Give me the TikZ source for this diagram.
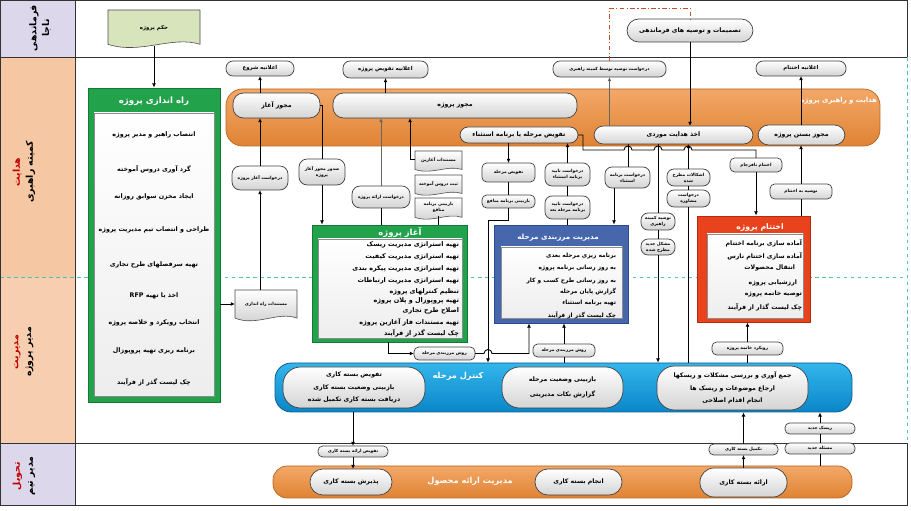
\documentclass[tikz,border=0pt]{standalone}
\usepackage{fontspec}
\usetikzlibrary{arrows.meta,calc}
\newfontfamily\fa[Script=Arabic]{DejaVu Sans}
\TeXXeTstate=1
\newcommand\RL[1]{\beginR#1\endR}
\newcommand\szA{\fontsize{3.7}{5.2}\selectfont}
\newcommand\szB{\fontsize{4.6}{5.8}\selectfont}
\newcommand\szC{\fontsize{5.3}{6.6}\selectfont}
\newcommand\szD{\fontsize{6.6}{8}\selectfont}
\newcommand\szE{\fontsize{8}{11}\selectfont}
\newcommand\szL{\fontsize{5.3}{10.5}\selectfont}
\definecolor{lav}{HTML}{DCD7EA}
\definecolor{peach}{HTML}{F5C7A2}
\definecolor{orA}{HTML}{F3A868}
\definecolor{orB}{HTML}{DF8334}
\definecolor{orD}{HTML}{B8631F}
\definecolor{grn}{HTML}{22A24B}
\definecolor{grnD}{HTML}{137A35}
\definecolor{blu}{HTML}{4767AD}
\definecolor{bluD}{HTML}{2C4A8C}
\definecolor{redb}{HTML}{E8431D}
\definecolor{redD}{HTML}{B02E10}
\definecolor{cyA}{HTML}{33B6EC}
\definecolor{cyB}{HTML}{0A86C8}
\definecolor{cyD}{HTML}{0D5E90}
\definecolor{tealL}{HTML}{4CC3B5}
\definecolor{ddash}{HTML}{C0502A}
\definecolor{olv}{HTML}{D8E4BC}
\definecolor{redT}{HTML}{C00000}
\newcommand\nd[7]{\node[#1, minimum width={(#5-#3)*0.03cm}, minimum height={(#6-#4)*0.03cm}] (#2) at ({(#3+#5)/2},{(#4+#6)/2}) {#7};}
\newcommand\docshp[5]{\path[#5] (#1,#2) -- (#3,#2) -- (#3,{#4-0.12*(#4-#2)}) .. controls ({#1+0.7*(#3-#1)},{#4-0.35*(#4-#2)}) and ({#1+0.35*(#3-#1)},{#4+0.15*(#4-#2)}) .. (#1,{#4-0.12*(#4-#2)}) -- cycle;}
\begin{document}
\begin{tikzpicture}[x=0.03cm,y=-0.03cm,
 base/.style={font=\fa\bfseries\szB, inner sep=0pt, outer sep=0pt, align=center, text=black},
 rb/.style={base, draw=black!75, line width=0.6pt, rounded corners=5pt, top color=white, bottom color=black!17},
 sm/.style={rb, rounded corners=4pt, font=\fa\bfseries\szA},
 pill/.style={rb, rounded corners=9pt, font=\fa\bfseries\szC},
 big/.style={rb, rounded corners=15pt, font=\fa\bfseries\szL},
 arr/.style={-{Latex[length=3.6pt,width=3.4pt]}, line width=0.75pt, draw=black},
 ln/.style={line width=0.75pt, draw=black},
 garr/.style={arr, draw=black!60},
 hdr/.style={base, text=white, font=\fa\bfseries\szD},
 item/.style={base, font=\fa\bfseries\szC},
 panel/.style={draw=black!45, line width=0.4pt, top color=white, bottom color=black!7},
 docst/.style={draw=black!70, line width=0.5pt, top color=white, bottom color=black!20},
 lanel/.style={draw=black!80, line width=0.7pt},
 lbl/.style={base, rotate=90, font=\fa\bfseries\szE},
]
\useasboundingbox (0,0) rectangle (911,511);
% ---------- lanes ----------
\fill[lav] (0,0) rectangle (75,57);
\fill[peach] (0,57) rectangle (75,277);
\fill[peach!85] (0,277) rectangle (75,443);
\fill[lav] (0,443) rectangle (75,505);
\draw[tealL, dashed, line width=0.7pt] (0,277) -- (907,277);
\draw[tealL, dashed, line width=0.7pt] (907,57) -- (907,443);
\draw[lanel] (0,0.5) -- (907,0.5) -- (907,57);
\draw[lanel] (0,0.5) -- (0,505) -- (907,505) -- (907,443);
\draw[lanel] (0,57) -- (907,57);
\draw[lanel] (0,443) -- (907,443);
\draw[lanel] (75,0.5) -- (75,505);
\node[lbl] (L1) at (40,28) {\RL{فرماندهی}\\\RL{ناجا}};
\node[lbl] (L2) at (24,172) {{\color{redT}\RL{هدایت}}\\\RL{کمیته راهبری}};
\node[lbl] (L3) at (24,352) {{\color{redT}\RL{مدیریت}}\\\RL{مدیر پروژه}};
\node[lbl] (L4) at (24,476) {{\color{redT}\RL{تحویل}}\\\RL{مدیر تیم}};
% helper x coordinates
\coordinate (x388) at (388,0);
\coordinate (x488) at (488,0);
\coordinate (x529) at (529,0);
\coordinate (x614) at (614,0);
\coordinate (x628) at (628,0);
% ---------- lane 1 ----------
\docshp{108}{10}{200}{49}{draw=black!70, line width=0.5pt, fill=olv}
\nd{base,font=\fa\bfseries\szB}{hokm}{108}{10}{200}{46}{\RL{حکم پروژه}}
\nd{pill,rounded corners=10pt}{tasmim}{627}{19}{753}{42}{\RL{تصمیمات و توصیه های فرماندهی}}
% ---------- lane 2 top row ----------
\nd{rb,rounded corners=6pt}{eshoro}{226}{61}{294}{76}{\RL{اعلانیه شروع}}
\nd{rb,rounded corners=6pt}{etafviz}{343}{61}{428}{78}{\RL{اعلانیه تفویض پروژه}}
\nd{rb,rounded corners=6pt,font=\fa\bfseries\szA}{dkomite}{553}{61}{666}{77}{\RL{درخواست توصیه توسط کمیته راهبری}}
\nd{rb,rounded corners=6pt}{ekhtetam}{756}{61}{846}{76}{\RL{اعلانیه اختتام}}
% orange band
\nd{draw=orD, line width=0.6pt, rounded corners=14pt, top color=orA, bottom color=orB}{band}{226}{89}{880}{146}{}
\node[hdr, anchor=east, font=\fa\bfseries\fontsize{5.9}{7}\selectfont] (bandT) at (877,101) {\RL{هدایت و راهبری پروژه}};
\nd{pill}{mstart}{233}{93}{320}{118}{\RL{مجوز آغاز}}
\nd{pill}{mproj}{333}{93}{577}{118}{\RL{مجوز پروژه}}
\nd{pill,rounded corners=7pt}{tafviz}{460}{127}{578}{143}{\RL{تفویض مرحله یا برنامه استثناء}}
\nd{pill,rounded corners=8pt}{akhz}{594}{126}{753}{144}{\RL{اخذ هدایت موردی}}
\nd{pill,rounded corners=9pt}{mbastan}{758}{125}{845}{145}{\RL{مجوز بستن پروژه}}
% green start-up box
\nd{draw=grnD, line width=0.8pt, fill=grn}{gbox}{88}{88}{220}{402}{}
\node[hdr, font=\fa\bfseries\fontsize{7.4}{9}\selectfont] (gT) at (154,101) {\RL{راه اندازی پروژه}};
\nd{panel}{gin}{94}{113}{214}{396}{}
\foreach \t/\y [count=\i] in {انتصاب راهبر و مدیر پروژه/135, گرد آوری دروس آموخته/169, ایجاد مخزن سوابق روزانه/197, طراحی و انتصاب تیم مدیریت پروژه/230, تهیه سرفصلهای طرح تجاری/265, {اخذ یا تهیه \beginL RFP\endL}/296, انتخاب رویکرد و خلاصه پروژه/323, برنامه ریزی تهیه پروپوزال/351, چک لیست گذر از فرآیند/382}
  \node[item, font=\fa\bfseries\fontsize{5.4}{6.6}\selectfont] (g\i) at (154,\y) {\RL{\t}};
% documents and request boxes
\docshp{235}{290}{297}{322}{docst}
\nd{base,font=\fa\bfseries\szA}{rdoc}{235}{290}{297}{318}{\RL{مستندات راه اندازی}}
\nd{sm,rounded corners=7pt}{rstart}{232}{166}{288}{190}{\RL{درخواست آغاز پروژه}}
\nd{sm,rounded corners=7pt}{sodur}{299}{159}{345}{185}{\RL{صدور مجوز آغاز}\\\RL{پروژه}}
\nd{sm,rounded corners=7pt}{dera}{352}{186}{410}{208}{\RL{درخواست ارائه پروژه}}
\docshp{415}{151}{462}{172}{docst}
\nd{base,font=\fa\bfseries\szA}{d1}{415}{151}{462}{168}{\RL{مستندات آغازین}}
\docshp{415}{175}{462}{196}{docst}
\nd{base,font=\fa\bfseries\szA}{d2}{415}{175}{462}{192}{\RL{ثبت دروس آموخته}}
\docshp{415}{198}{462}{220}{docst}
\nd{base,font=\fa\bfseries\szA}{d3}{415}{198}{462}{216}{\RL{بازبینی برنامه}\\\RL{منافع}}
% green initiation box
\nd{draw=grnD, line width=0.8pt, fill=grn}{abox}{312}{225}{467}{342}{}
\node[hdr, font=\fa\bfseries\fontsize{7.2}{9}\selectfont] (aT) at (400,233) {\RL{آغاز پروژه}};
\nd{panel}{ain}{318}{239}{462}{338}{}
\foreach \t/\y [count=\i] in {تهیه استراتژی مدیریت ریسک/245, تهیه استراتژی مدیریت کیفیت/257, تهیه استراتژی مدیریت پیکره بندی/269, تهیه استراتژی مدیریت ارتباطات/281, تنظیم کنترلهای پروژه/292, تهیه پروپوزال و پلان پروژه/301, اصلاح طرح تجاری/311, تهیه مستندات فاز آغازین پروژه/322, چک لیست گذر از فرآیند/333}
  \node[item, anchor=east, font=\fa\bfseries\fontsize{5.5}{6.6}\selectfont] (a\i) at (459,\y) {\RL{\t}};
% stage boundary column
\nd{sm}{tmarhale}{482}{163}{535}{182}{\RL{تفویض مرحله}}
\nd{sm}{bmonafe}{482}{195}{535}{208}{\RL{بازبینی برنامه منافع}}
\nd{sm,rounded corners=6pt}{dtaied1}{545}{163}{590}{186}{\RL{درخواست تایید}\\\RL{برنامه استثناء}}
\nd{sm,rounded corners=6pt}{dtaied2}{545}{196}{590}{219}{\RL{درخواست تایید}\\\RL{برنامه مرحله بعد}}
\nd{sm,rounded corners=6pt}{dbarname}{605}{167}{650}{188}{\RL{درخواست برنامه}\\\RL{استثناء}}
\nd{sm,rounded corners=6pt}{tkomite}{641}{213}{675}{230}{\RL{توصیه کمیته}\\\RL{راهبری}}
\nd{sm,rounded corners=6pt}{mjadid}{641}{239}{675}{255}{\RL{مشکل جدید}\\\RL{مطرح شده}}
\nd{sm,rounded corners=6pt}{eshkal}{667}{169}{710}{186}{\RL{اشکالات مطرح}\\\RL{شده}}
\nd{sm,rounded corners=6pt}{moshavere}{667}{190}{710}{207}{\RL{درخواست}\\\RL{مشاوره}}
\nd{sm}{nafarjam}{730}{158}{782}{172}{\RL{اختتام نافرجام}}
\nd{sm}{tbeekht}{770}{184}{832}{199}{\RL{توصیه به اختتام}}
% blue box
\nd{draw=bluD, line width=0.8pt, fill=blu}{bbox}{494}{225}{628}{323}{}
\node[hdr, font=\fa\bfseries\fontsize{6.1}{7.5}\selectfont] (bT) at (558,238) {\RL{مدیریت مرزبندی مرحله}};
\nd{panel}{bin}{501}{247}{622}{318}{}
\foreach \t/\y [count=\i] in {برنامه ریزی مرحله بعدی/256, به روز رسانی برنامه پروژه/268, به روز رسانی طرح کسب و کار/281, گزارش پایان مرحله/292, تهیه برنامه استثناء/303, چک لیست گذر از فرآیند/315}
  \node[item, anchor=east, font=\fa\bfseries\fontsize{5}{6}\selectfont] (b\i) at (616,\y) {\RL{\t}};
% red box
\nd{draw=redD, line width=0.8pt, fill=redb}{rbox}{697}{216}{810}{322}{}
\node[hdr] (rT) at (760,228) {\RL{اختتام پروژه}};
\nd{panel}{rin}{707}{234}{803}{318}{}
\foreach \t/\y/\xx [count=\i] in {آماده سازی برنامه اختتام/243/802, آماده سازی اختتام نارس/256/802, انتقال محصولات/268/795, ارزشیابی پروژه/283/797, توصیه خاتمه پروژه/294/802, چک لیست گذار از فرآیند/307/802}
  \node[item, anchor=east] (r\i) at (\xx,\y) {\RL{\t}};
% ---------- lane 3 ----------
\nd{sm}{ravesh1}{414}{347}{475}{360}{\RL{روش مرزبندی مرحله}}
\nd{sm}{ravesh2}{533}{344}{595}{357}{\RL{روش مرزبندی مرحله}}
\nd{sm}{rkhatme}{712}{342}{783}{355}{\RL{رویکرد خاتمه پروژه}}
\nd{draw=cyD, line width=0.7pt, rounded corners=14pt, top color=cyA, bottom color=cyB}{cband}{275}{363}{852}{412}{}
\node[hdr, font=\fa\bfseries\fontsize{7}{8.5}\selectfont] (cT) at (458,376) {\RL{کنترل مرحله}};
\nd{big}{c1}{283}{367}{425}{408}{\RL{تفویض بسته کاری}\\\RL{بازبینی وضعیت بسته کاری}\\\RL{دریافت بسته کاری تکمیل شده}}
\nd{big}{c2}{502}{367}{623}{408}{\RL{بازبینی وضعیت مرحله}\\[2pt]\RL{گزارش نکات مدیریتی}}
\nd{big}{c3}{657}{366}{808}{410}{\RL{جمع آوری و بررسی مشکلات و ریسکها}\\\RL{ارجاع موضوعات و ریسک ها}\\\RL{انجام اقدام اصلاحی}}
% ---------- lane 4 ----------
\nd{sm}{tera}{318}{446}{388}{457}{\RL{تفویض ارائه بسته کاری}}
\nd{sm}{tkamil}{709}{444}{778}{455}{\RL{تکمیل بسته کاری}}
\nd{sm}{rjadid}{785}{423}{855}{434}{\RL{ریسک جدید}}
\nd{sm}{mas}{785}{443}{855}{454}{\RL{مسئله جدید}}
\nd{draw=orD, line width=0.6pt, rounded corners=12pt, top color=orA, bottom color=orB}{oband}{273}{466}{852}{498}{}
\node[hdr, font=\fa\bfseries\fontsize{7}{8.5}\selectfont] (oT) at (470,481) {\RL{مدیریت ارائه محصول}};
\nd{pill,rounded corners=11pt}{o1}{310}{469}{392}{495}{\RL{پذیرش بسته کاری}}
\nd{pill,rounded corners=11pt}{o2}{535}{469}{622}{495}{\RL{انجام بسته کاری}}
\nd{pill,rounded corners=12pt}{o3}{700}{468}{787}{497}{\RL{ارائه بسته کاری}}
% ---------- connectors ----------
\draw[arr] (hokm.south) -- (gbox.north);
\draw[arr] (tasmim.south) -- (tasmim.south |- akhz.north);
\draw[ddash, line width=0.8pt, dash pattern=on 4pt off 2pt on 1pt off 2pt] (dkomite.north) -- ++(0,-53) -| (tasmim.north);
\draw[arr] (mstart.north -| eshoro) -- (eshoro.south);
\draw[arr] (mproj.north -| etafviz) -- (etafviz.south);
\draw[garr] (akhz.north -| dkomite) -- (dkomite.south);
\draw[arr] (mbastan.north -| ekhtetam) -- (ekhtetam.south);
\draw[arr] (gbox.east |- rdoc.west) -- (rdoc.west);
\draw[arr] (rdoc.north -| rstart) -- (rstart.south);
\draw[arr] (rstart.north) -- (rstart.north |- mstart.south);
\draw[ln] (mstart.east) -| (sodur.north);
\draw[arr] (sodur.south) -- (sodur.south |- abox.north);
\draw[ln] (abox.north -| dera) -- (dera.south);
\draw[garr] (dera.north) -- (dera.north |- mproj.south);
\draw[arr] (d1.west) -- ++(-5,0) coordinate (d1k) -- (d1k |- mproj.south);
\draw[ln] (d3.south) -- (d3.south |- abox.north);
\draw[arr] (tafviz.south -| tmarhale) -- (tmarhale.north);
\draw[ln] (tmarhale.south) -- (bmonafe.north);
\draw[arr] (bmonafe.south) -- ++(0,12) -| (cband.north -| x488);
\draw[arr] (abox.south -| x388) |- (ravesh1.west);
\draw[arr] (ravesh1.east) -- (484,353.5) arc[start angle=180,end angle=0,radius=0.12cm] -| (bbox.south -| x529);
\draw[ln] (cband.north -| ravesh2) -- (ravesh2.south);
\draw[arr] (ravesh2.north) -- (ravesh2.north |- bbox.south);
\draw[ln] (bbox.north -| dtaied2) -- (dtaied2.south);
\draw[ln] (dtaied2.north) -- (dtaied1.south);
\draw[arr] (dtaied1.north) -- (dtaied1.north |- tafviz.south);
\draw[ln] (akhz.south -| x628) -- (dbarname.north -| x628);
\draw[arr] (dbarname.south -| x614) -- (bbox.north -| x614);
\draw[ln] (tafviz.east) -- ++(5,0) -- (583,150) -- (624,150) arc[start angle=180,end angle=0,radius=0.12cm] -- (654,150) arc[start angle=180,end angle=0,radius=0.12cm] -- (684,150) arc[start angle=180,end angle=0,radius=0.12cm] -| (nafarjam.north);
\draw[arr] (nafarjam.south) -- (nafarjam.south |- rbox.north);
\draw[ln] (akhz.south -| tkomite) -- (tkomite.north);
\draw[ln] (tkomite.south) -- (mjadid.north);
\draw[arr] (mjadid.south) -- (mjadid.south |- cband.north);
\draw[ln] (cband.north -| eshkal) -- (moshavere.south);
\draw[ln] (moshavere.north) -- (eshkal.south);
\draw[arr] (eshkal.north) -- (eshkal.north |- akhz.south);
\draw[ln] (rbox.north -| tbeekht) -- (tbeekht.south);
\draw[arr] (tbeekht.north) -- (tbeekht.north |- mbastan.south);
\draw[ln] (cband.north -| rkhatme) -- (rkhatme.south);
\draw[arr] (rkhatme.north) -- (rkhatme.north |- rbox.south);
\draw[arr] (cband.south -| tera) -- (tera.north);
\draw[arr] (tera.south) -- (tera.south |- o1.north);
\draw[arr] (o3.north -| tkamil) -- (tkamil.south);
\draw[arr] (tkamil.north) -- (tkamil.north |- cband.south);
\draw[ln] (oband.north -| mas) -- (mas.south);
\draw[ln] (mas.north) -- (rjadid.south);
\draw[arr] (rjadid.north) -- (rjadid.north |- cband.south);
\end{tikzpicture}
\end{document}
